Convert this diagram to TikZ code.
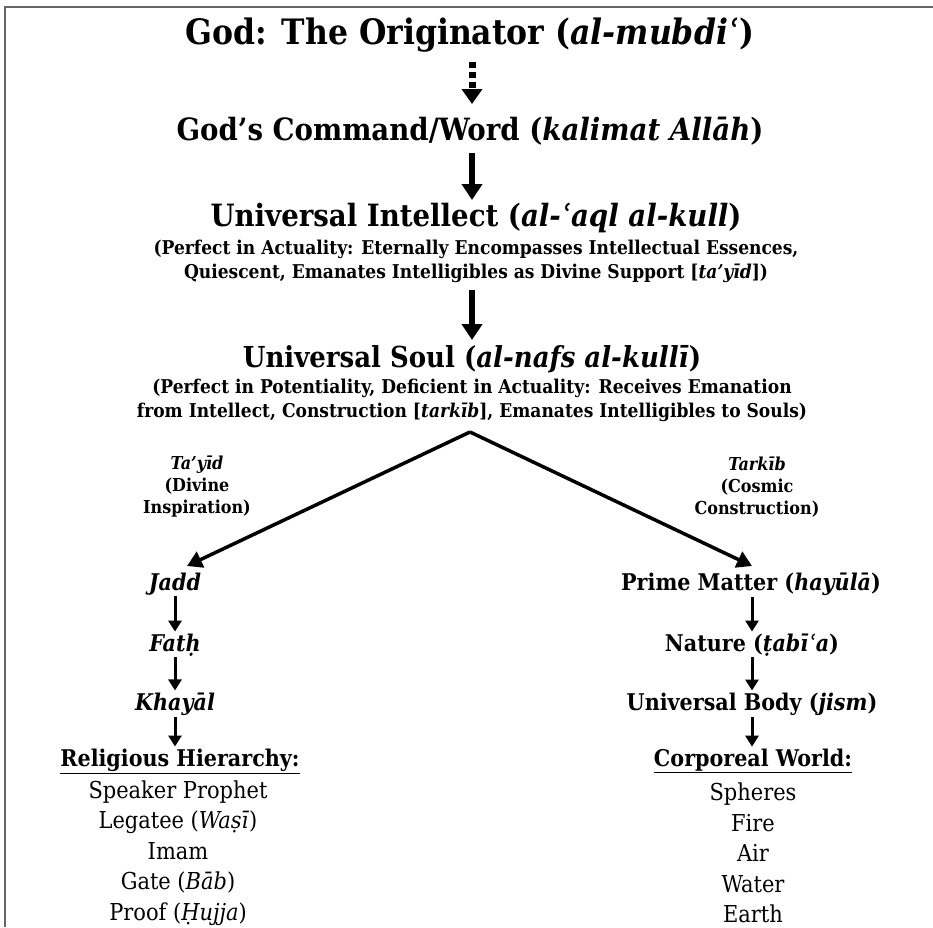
\documentclass[tikz,border=0pt]{standalone}
\usepackage{fontspec}
\setmainfont{DejaVu Serif Condensed}
\usetikzlibrary{arrows.meta}
\begin{document}
\begin{tikzpicture}[x=1pt,y=-1pt,
  hd/.style={font=\bfseries\fontsize{30.7}{33}\selectfont, inner sep=0pt},
  sub/.style={font=\bfseries\fontsize{19}{24}\selectfont, align=center, inner sep=0pt},
  col/.style={font=\bfseries\fontsize{23}{25}\selectfont, inner sep=0pt},
  lst/.style={font=\fontsize{23.3}{30.5}\selectfont, align=center, inner sep=0pt},
  lbl/.style={font=\bfseries\fontsize{17.8}{22}\selectfont, align=center, inner sep=0pt},
  bigarrow/.style={line width=5.5pt, -{Triangle[width=20pt,length=16pt]}},
  dotarrow/.style={line width=7pt, dash pattern=on 6pt off 4pt, -{Triangle[width=20pt,length=15pt]}},
  smallarrow/.style={line width=3pt, shorten <=1pt, shorten >=2pt, -{Triangle[width=13pt,length=11pt]}},
  forkline/.style={line width=3.5pt, -{Triangle[width=17pt,length=15pt]}},
  frameline/.style={draw=black!60, line width=2pt}
]
\useasboundingbox (0,0) rectangle (933,927);
\draw[frameline] (5,927) -- (5,6.5) -- (933,6.5);

\node[hd, font=\bfseries\fontsize{35}{38}\selectfont] (god) at (470,35) {God: The Originator (\textit{al-mubdiʿ})};
\node[hd] (cmd) at (470,131) {God’s Command/Word (\textit{kalimat Allāh})};
\node[hd] (int) at (476,218) {Universal Intellect (\textit{al-ʿaql al-kull})};
\node[sub] (intsub) at (476,261) {(Perfect in Actuality: Eternally Encompasses Intellectual Essences,\\Quiescent, Emanates Intelligibles as Divine Support [\textit{ta’yīd}])};
\node[hd, font=\bfseries\fontsize{28.9}{32}\selectfont] (soul) at (472,359) {Universal Soul (\textit{al-nafs al-kullī})};
\node[sub] (soulsub) at (472,400) {(Perfect in Potentiality, Deficient in Actuality: Receives Emanation\\from Intellect, Construction [\textit{tarkīb}], Emanates Intelligibles to Souls)};
\coordinate (apex) at (470,432);

\node[lbl] (tayid) at (197,487) {\textit{Ta’yīd}\\(Divine\\Inspiration)};
\node[lbl] (tarkib) at (757,487) {\textit{Tarkīb}\\(Cosmic\\Construction)};

\node[col] (jadd) at (175,584) {\textit{Jadd}};
\node[col] (fath) at (175,645) {\textit{Fatḥ}};
\node[col] (khayal) at (175,704) {\textit{Khayāl}};
\node[col] (relh) at (180,761) {\underline{Religious Hierarchy:}};
\node[lst] (rell) at (178,853) {Speaker Prophet\\Legatee (\textit{Waṣī})\\Imam\\Gate (\textit{Bāb})\\Proof (\textit{Ḥujja})};

\node[col] (prime) at (751,584) {Prime Matter (\textit{hayūlā})};
\node[col] (nature) at (752,645) {Nature (\textit{ṭabīʿa})};
\node[col] (body) at (752,704) {Universal Body (\textit{jism})};
\node[col] (corp) at (753,761) {\underline{Corporeal World:}};
\node[lst] (corpl) at (753,853) {Spheres\\Fire\\Air\\Water\\Earth};

\draw[dotarrow] (472,62) -- (472,104);
\draw[bigarrow] (472,153) -- (472,200);
\draw[bigarrow] (472,290) -- (472,340);
\draw[forkline] (apex) -- (187,566);
\draw[forkline] (apex) -- (752,566);
\draw[smallarrow] (jadd.south) -- (jadd.south |- fath.north);
\draw[smallarrow] (fath.south) -- (fath.south |- khayal.north);
\draw[smallarrow] (khayal.south) -- (khayal.south |- relh.north);
\draw[smallarrow] (nature.north |- prime.south) -- (nature.north);
\draw[smallarrow] (nature.south) -- (nature.south |- body.north);
\draw[smallarrow] (nature.south |- body.south) -- (nature.south |- corp.north);
\end{tikzpicture}
\end{document}
